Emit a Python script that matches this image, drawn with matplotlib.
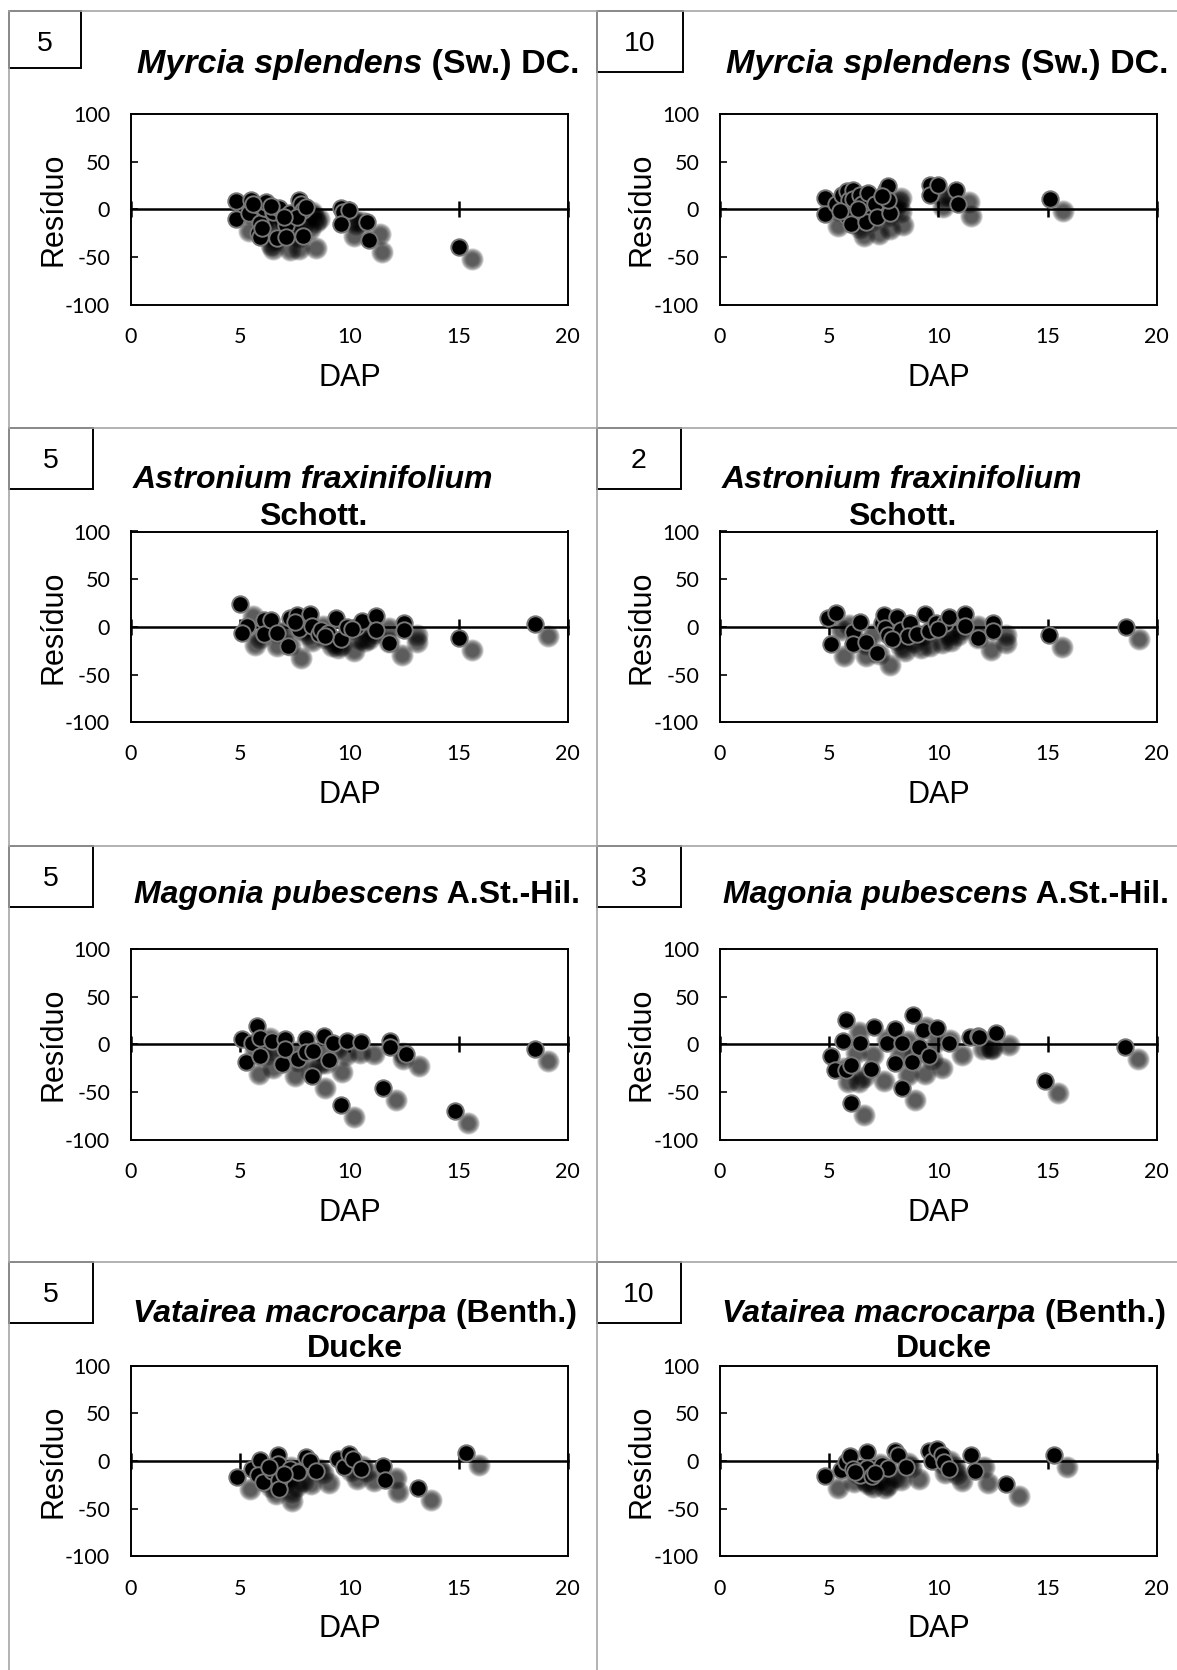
import numpy as np
import matplotlib
matplotlib.use('Agg')
from matplotlib import pyplot as plt
from matplotlib.transforms import ScaledTranslation
from matplotlib.patches import Rectangle
from matplotlib.lines import Line2D

# residuals (DAP in cm, residuo in %)
dap_myr5 = [4.8, 4.8, 5.5, 5.4, 5.8, 5.9, 5.8, 5.9, 6.1, 6.2, 6.5, 6.8, 6.7, 7.1, 7.1, 7.3, 7.7, 7.8, 7.9, 7.9,
            7.6, 9.6, 9.7, 10.0, 9.6, 10.8, 10.9, 15.0, 5.6, 6.0, 6.4, 7.0, 8.0]
res_myr5 = [9, -10, 10, -4, 5, -14, -25, -29, 1, 8, -3, 1, -30, -16, -29, -4, 10, 6, -1, -28,
            -8, 1, -3, -1, -15, -13, -32, -39, 6, -20, 3, -8, 2]

dap_myr10 = [4.8, 4.8, 5.3, 5.6, 5.8, 5.9, 5.8, 6.0, 6.1, 6.1, 6.4, 6.5, 6.7, 6.8, 7.1, 7.2, 7.6, 7.7, 7.8, 7.7,
             9.6, 9.6, 10.0, 10.8, 10.9, 15.1, 5.5, 6.3, 7.4]
res_myr10 = [12, -5, 6, 15, 19, 10, -7, -15, 20, 11, 15, 6, -13, 17, 6, -8, 20, 24, -4, 10,
             26, 15, 26, 20, 6, 11, -2, 0, 14]

dap_ast5 = [5.0, 5.3, 5.1, 6.1, 6.1, 6.4, 6.7, 7.2, 7.3, 7.6, 7.7, 8.2, 8.3, 8.6, 8.7, 9.0, 9.4, 9.6, 9.9, 10.3,
            10.6, 11.2, 11.2, 11.8, 12.5, 12.5, 15.0, 18.5, 7.5, 8.9, 10.1]
res_ast5 = [24, 1, -6, 7, -8, 7, -6, -20, 9, 12, -2, 13, 1, -8, -3, -6, 9, -13, 0, 0,
            6, 11, -3, -17, 4, -3, -12, 3, 5, -10, -2]

dap_ast2 = [4.95, 5.3, 5.1, 6.1, 6.1, 6.4, 6.7, 7.2, 7.4, 7.5, 7.55, 7.7, 8.1, 8.3, 8.7, 8.6, 9.0, 9.4, 9.55, 9.9,
            10.3, 10.5, 11.2, 11.2, 11.8, 12.5, 12.5, 15.05, 18.6, 7.9, 10.0]
res_ast2 = [9, 15, -18, -5, -18, 5, -16, -27, 4, 12, -1, -9, 10, -3, 4, -10, -8, 14, -4, 4,
            4, 10, 14, 1, -12, 4, -4, -9, 0, -13, -2]

dap_mag5 = [5.1, 5.25, 5.55, 5.75, 5.9, 5.9, 6.45, 6.9, 7.05, 7.05, 7.65, 8.0, 8.0, 8.35, 8.3, 8.85, 9.05, 9.25,
            9.6, 9.9, 10.55, 11.55, 11.85, 11.85, 12.6, 14.85, 18.5]
res_mag5 = [6, -18, 2, 19, 7, -12, 4, -21, 6, -5, -15, 6, -8, -7, -33, 9, -16, 2,
            -63, 4, 3, -46, 4, -3, -10, -70, -5]

dap_mag3 = [5.75, 5.1, 5.25, 5.65, 5.75, 6.0, 6.0, 6.4, 6.9, 7.05, 7.65, 8.0, 8.0, 8.35, 8.35, 8.85, 8.8, 9.1,
            9.3, 9.55, 9.95, 10.5, 11.45, 11.8, 11.85, 12.65, 14.9, 18.55]
res_mag3 = [26, -12, -27, 4, -27, -22, -61, 2, -26, 18, 2, 16, -19, 2, -46, 31, -18, -3,
            15, -12, 17, 1, 8, 9, 8, 12, -38, -3]

dap_vat5 = [4.85, 5.55, 5.9, 5.8, 6.05, 6.45, 6.75, 6.75, 6.8, 6.8, 7.3, 7.65, 8.0, 8.2, 8.45, 9.5, 9.75, 10.0,
            10.15, 10.55, 11.55, 11.65, 13.15, 15.35, 6.3, 7.0]
res_vat5 = [-17, -8, 1, -15, -22, -11, 6, -3, -20, -29, -8, -12, 4, 0, -11, 2, -6, 7,
            2, -8, -5, -20, -28, 8, -6, -14]

dap_vat10 = [4.8, 5.55, 5.75, 5.95, 6.1, 6.4, 6.75, 6.75, 6.95, 7.4, 7.7, 8.0, 8.15, 8.5, 9.55, 9.7, 9.95, 10.15,
             10.25, 10.5, 11.5, 11.7, 13.1, 15.3, 6.2, 7.1]
res_vat10 = [-16, -10, -1, 5, -8, -15, 9, -7, -16, -4, -7, 10, 6, -6, 10, 0, 13, 6,
             -1, -8, 6, -11, -24, 6, -12, -13]

species = [("Myrcia splendens", " (Sw.) DC.", None),
           ("Astronium fraxinifolium", "", "Schott."),
           ("Magonia pubescens", " A.St.-Hil.", None),
           ("Vatairea macrocarpa", " (Benth.)", "Ducke")]
numbers = [["5", "10"], ["5", "2"], ["5", "3"], ["5", "10"]]
dap = [[dap_myr5, dap_myr10], [dap_ast5, dap_ast2], [dap_mag5, dap_mag3], [dap_vat5, dap_vat10]]
res = [[res_myr5, res_myr10], [res_ast5, res_ast2], [res_mag5, res_mag3], [res_vat5, res_vat10]]

plt.rcParams['axes.unicode_minus'] = False

W, H, DPI = 1177, 1670, 100
fig = plt.figure(figsize=(W/DPI, H/DPI), dpi=DPI)
rend = fig.canvas.get_renderer()

# layout in pixels of the original page
row_top = [10.7, 428.2, 845.8, 1262.3]
col_left = [8.5, 596.5]
ax_left = [131, 720]
ax_w, ax_h, ax_off = 436.7, 190.7, 103.3
box_w = [[73, 86], [84, 84], [84, 84], [84, 84]]
title_dx = [227, 182, 226, 224]
title_y1 = [62, 60, 57.5, 59.4]
title_y2 = [None, 97, None, 94.4]
title_size = [24.5, 23, 23, 23]

tfont = 'Liberation Sans'
tickfont = 'Lato'
S = 140

def fx(x):
    return x / W

def fy(y):
    return 1 - y / H

def title_line(cx, yb, ital, rest, size):
    t1 = fig.text(0, fy(yb), ital, family=tfont, style='italic', weight='bold', size=size, va='baseline')
    t2 = fig.text(0, fy(yb), rest, family=tfont, weight='bold', size=size, va='baseline')
    w1 = t1.get_window_extent(rend).width
    w2 = t2.get_window_extent(rend).width if rest else 0
    x0 = cx - (w1 + w2) / 2
    t1.set_x(fx(x0))
    t2.set_x(fx(x0 + w1))

# table grid
for y in row_top:
    fig.add_artist(Line2D([fx(col_left[0]), 1], [fy(y), fy(y)], color='#a6a6a6', lw=1.2))
for x in col_left:
    fig.add_artist(Line2D([fx(x), fx(x)], [0, fy(row_top[0])], color='#a6a6a6', lw=1.2))

for r in range(4):
    for c in range(2):
        top = row_top[r]
        # number box
        bh = 57 if (r == 0 and c == 0) else 61
        fig.add_artist(Rectangle((fx(col_left[c]), fy(top + bh)), box_w[r][c] / W, bh / H,
                                 transform=fig.transFigure, facecolor='white', edgecolor='black', lw=1.4))
        fig.text(fx(col_left[c] + box_w[r][c] / 2), fy(top + 40), numbers[r][c], family=tfont,
                 size=20.5, ha='center', va='baseline')

        ital, rest, line2 = species[r]
        cx = ax_left[c] + title_dx[r]
        title_line(cx, top + title_y1[r], ital, rest, title_size[r])
        if line2:
            fig.text(fx(cx), fy(top + title_y2[r]), line2, family=tfont, weight='bold', size=title_size[r],
                     ha='center', va='baseline')

        ax = fig.add_axes([fx(ax_left[c]), fy(top + ax_off + ax_h), ax_w / W, ax_h / H])
        x = np.array(dap[r][c])
        y = np.array(res[r][c])

        # blurred drop shadow
        off = ScaledTranslation(13 / DPI, -12 / DPI, fig.dpi_scale_trans)
        for k in range(10):
            ax.scatter(x, y, s=S * (1.9 - 0.15 * k), color='black', alpha=0.095, linewidths=0,
                       transform=ax.transData + off, zorder=2)
        ax.scatter(x, y, s=S, c='black', edgecolors='#777777', linewidths=1.4, zorder=3)

        ax.set_xlim(0, 20)
        ax.set_ylim(-100, 100)
        ax.set_xticks([0, 5, 10, 15, 20])
        ax.set_yticks([-100, -50, 0, 50, 100])
        ax.tick_params(axis='x', length=0, pad=16, labelsize=15.5)
        ax.tick_params(axis='y', direction='in', length=5, width=1.2, pad=15, labelsize=15.5)
        for lab in ax.get_xticklabels() + ax.get_yticklabels():
            lab.set_family(tickfont)
        for sp in ax.spines.values():
            sp.set_linewidth(1.4)

        # horizontal axis crossing at zero
        sec = ax.secondary_xaxis(0.5)
        sec.set_xticks([0, 5, 10, 15, 20])
        sec.tick_params(axis='x', direction='inout', length=11, width=1.8,
                        labeltop=False, labelbottom=False)
        for sp in sec.spines.values():
            sp.set_linewidth(1.8)

        ax.set_ylabel('Resíduo', family=tfont, size=22)
        ax.yaxis.set_label_coords(-63 / ax_w, 0.5)
        ax.set_xlabel('DAP', family=tfont, size=22)
        ax.xaxis.set_label_coords(0.5, -58 / ax_h)

fig.savefig('out.png', dpi=DPI)
